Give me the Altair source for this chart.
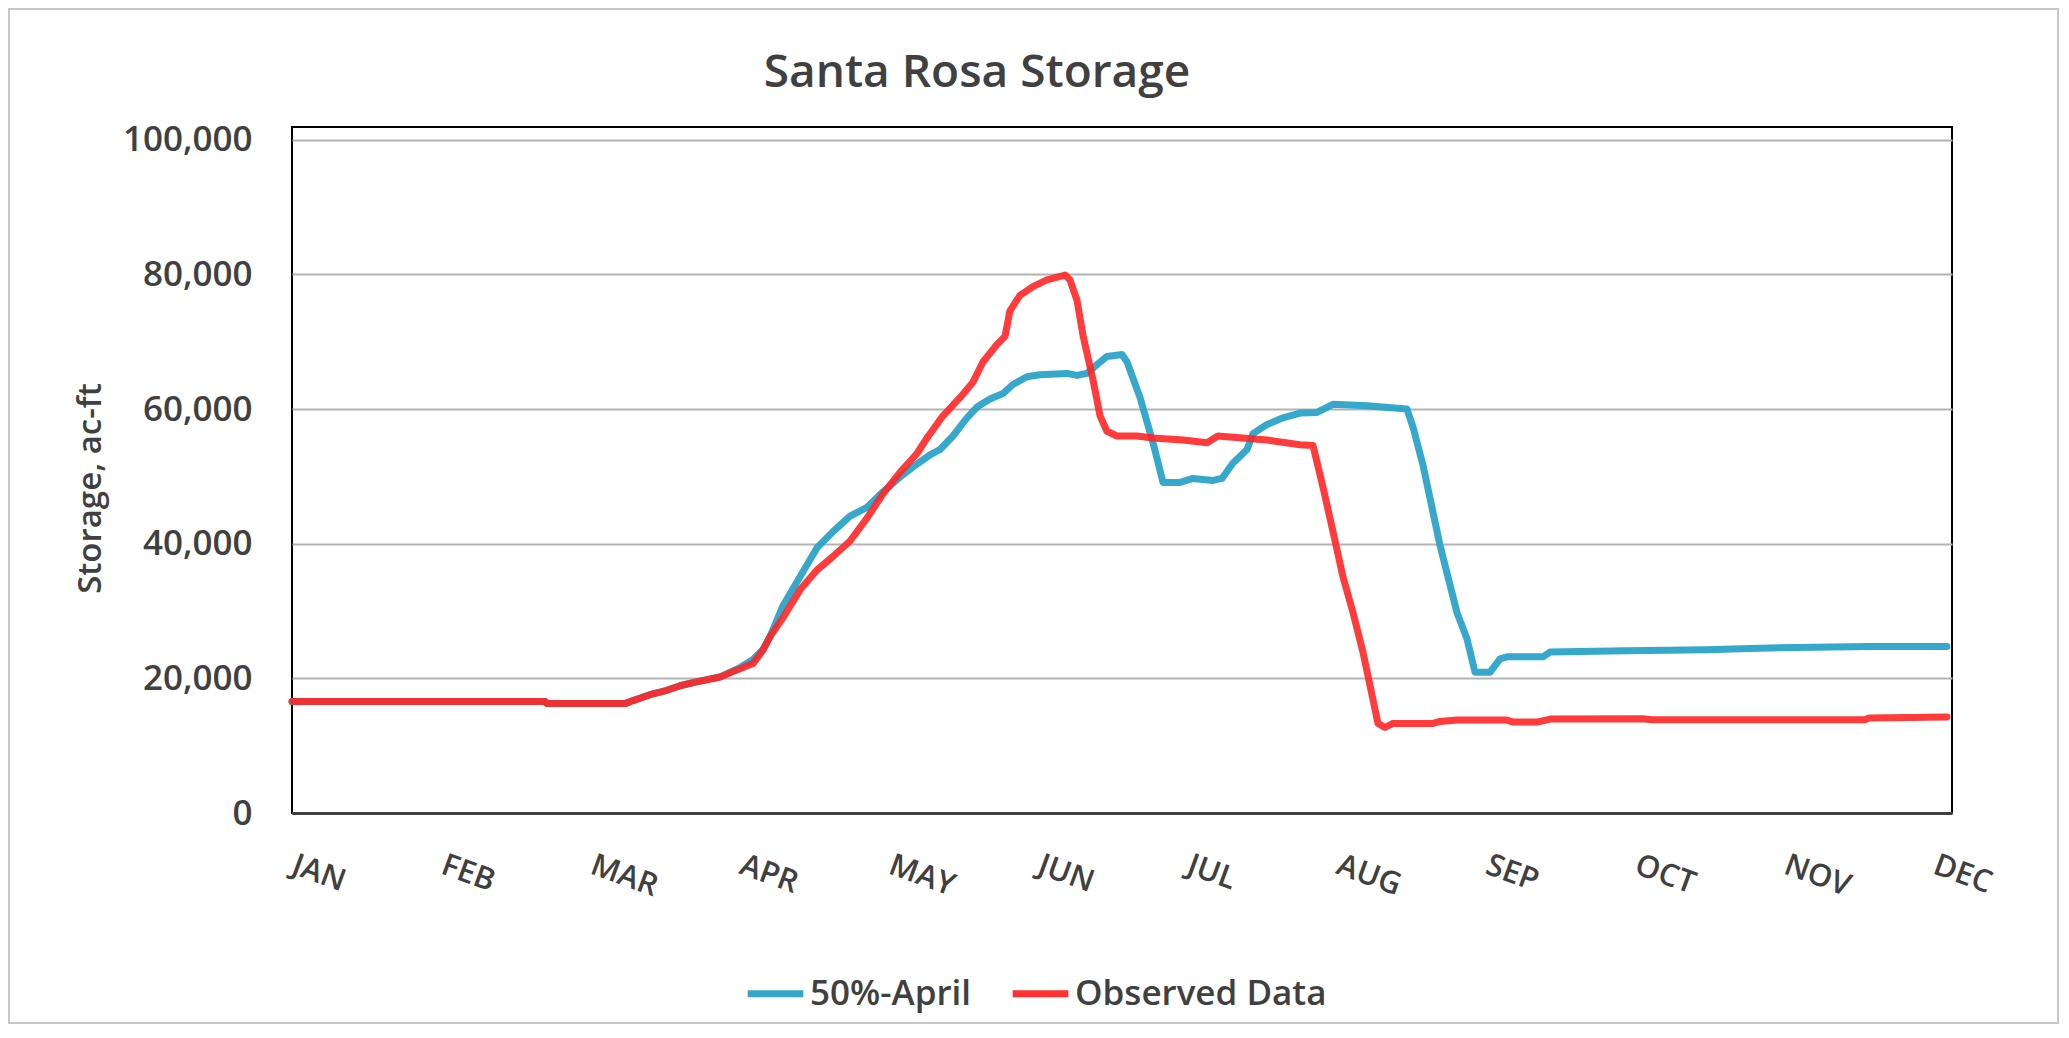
import altair as alt
import pandas as pd

# Month labels on the x axis (axis positions 0..11)
months = ["JAN", "FEB", "MAR", "APR", "MAY", "JUN", "JUL", "AUG", "SEP", "OCT", "NOV", "DEC"]

# 50%-April forecast: x in month-axis units, storage in ac-ft
april_x = [0, 1.696, 1.709, 2.232, 2.286, 2.399, 2.513, 2.601, 2.688, 2.869, 3.003, 3.090,
           3.157, 3.204, 3.291, 3.405, 3.519, 3.626, 3.740, 3.854, 3.961, 4.075, 4.162, 4.276,
           4.343, 4.430, 4.524, 4.591, 4.678, 4.765, 4.832, 4.926, 5.013, 5.194, 5.261, 5.328,
           5.395, 5.462, 5.563, 5.597, 5.684, 5.771, 5.838, 5.952, 6.039, 6.173, 6.233, 6.307,
           6.401, 6.441, 6.535, 6.642, 6.756, 6.870, 6.977, 7.205, 7.473, 7.513, 7.580, 7.694,
           7.808, 7.875, 7.929, 8.029, 8.097, 8.143, 8.385, 8.432, 8.941, 9.484, 9.712, 10.087,
           10.570, 11.092]
april_y = [16570, 16570, 16250, 16250, 16700, 17570, 18230, 18900, 19360, 20200, 21600, 22800,
           24300, 26200, 30800, 35100, 39400, 41800, 44100, 45400, 47700, 49900, 51400, 53200,
           54000, 56000, 58700, 60300, 61500, 62300, 63650, 64800, 65100, 65300, 65000, 65300,
           66600, 67800, 68100, 67000, 61700, 55000, 49100, 49100, 49700, 49400, 49700, 52000,
           54000, 56350, 57700, 58700, 59400, 59500, 60700, 60500, 60000, 57350, 51700, 39800,
           29800, 25900, 20900, 20900, 22900, 23200, 23200, 23900, 24100, 24250, 24400, 24600,
           24750, 24750]

# Observed data
obs_x = [0, 1.696, 1.709, 2.232, 2.286, 2.399, 2.513, 2.601, 2.688, 2.869, 2.956, 3.090,
         3.157, 3.204, 3.291, 3.405, 3.519, 3.626, 3.740, 3.854, 3.961, 4.075, 4.189, 4.256,
         4.363, 4.477, 4.564, 4.631, 4.725, 4.779, 4.812, 4.879, 4.966, 5.060, 5.181, 5.214,
         5.261, 5.302, 5.369, 5.416, 5.462, 5.529, 5.664, 5.771, 5.972, 6.133, 6.206, 6.307,
         6.535, 6.756, 6.843, 6.910, 6.977, 7.044, 7.111, 7.178, 7.279, 7.326, 7.379, 7.647,
         7.694, 7.808, 8.143, 8.184, 8.344, 8.432, 9.055, 9.115, 10.543, 10.570, 11.092]
obs_y = [16570, 16570, 16250, 16250, 16700, 17570, 18230, 18900, 19360, 20200, 21000, 22200,
         24200, 26200, 29000, 33150, 36100, 38100, 40400, 43800, 47400, 50600, 53400, 55700,
         59000, 61700, 64000, 67000, 69600, 70800, 74600, 76900, 78200, 79200, 79900, 79200,
         76200, 70900, 64300, 59000, 56700, 56000, 56000, 55700, 55400, 55000, 56000, 55800,
         55400, 54700, 54600, 48400, 41800, 35100, 29800, 23900, 13300, 12700, 13300, 13300,
         13600, 13800, 13800, 13500, 13500, 13950, 14000, 13850, 13850, 14100, 14250]

series_names = ["50%-April", "Observed Data"]
y_ticks = [0, 20000, 40000, 60000, 80000, 100000]
chart_title = "Santa Rosa Storage"

df = pd.concat([
    pd.DataFrame({"m": april_x, "v": april_y, "series": series_names[0]}),
    pd.DataFrame({"m": obs_x, "v": obs_y, "series": series_names[1]}),
], ignore_index=True)

FONT = "Open Sans"
TXT = "#404040"
BLUE = "#2BA3C9"
RED = "#FF2626"
W, H = 1660, 686

label_expr = "[" + ",".join("'%s'" % m for m in months) + "][datum.value]"

x_enc = alt.X(
    "m:Q",
    scale=alt.Scale(domain=[0, 11.126], nice=False, zero=False),
    axis=alt.Axis(
        values=list(range(len(months))), labelExpr=label_expr, labelAngle=20,
        labelAlign="left", labelBaseline="top", labelPadding=37, labelOffset=6,
        ticks=False, grid=False, domainColor=TXT, domainWidth=3, labelFont=FONT,
        labelFontSize=31, labelFontWeight=600, labelColor=TXT, title=None,
        labelOverlap=False,
    ),
)
y_enc = alt.Y(
    "v:Q",
    scale=alt.Scale(domain=[0, 101900], nice=False),
    axis=alt.Axis(
        values=y_ticks, format=",.0f", grid=True, gridColor="#B3B3B3", gridWidth=2,
        ticks=False, domain=False, labelPadding=40, labelFont=FONT, labelFontSize=35,
        labelFontWeight=600, labelColor=TXT, title="Storage, ac-ft", titleFont=FONT,
        titleFontSize=33, titleFontWeight=600, titleColor=TXT, titleAngle=270,
        titleX=-192, titleY=361, titleAlign="center", titleBaseline="alphabetic",
    ),
)
color_enc = alt.Color(
    "series:N",
    scale=alt.Scale(domain=series_names, range=[BLUE, RED]),
    legend=alt.Legend(
        orient="none", legendX=452, legendY=835, direction="horizontal", title=None,
        symbolType="stroke", symbolStrokeWidth=7, symbolSize=3100, labelFont=FONT,
        labelFontSize=35, labelFontWeight=600, labelColor=TXT, columnPadding=26,
        labelOffset=3, labelLimit=0,
    ),
)

base = alt.Chart(df).encode(x=x_enc, y=y_enc, color=color_enc)
blue_line = base.transform_filter(alt.datum.series == series_names[0]).mark_line(
    strokeWidth=7, strokeCap="round", strokeJoin="round", opacity=0.95)
red_line = base.transform_filter(alt.datum.series == series_names[1]).mark_line(
    strokeWidth=7, strokeCap="round", strokeJoin="round", opacity=0.9)

one = alt.Data(values=[{"k": 1}])
outer = alt.Chart(one).mark_rect(
    fillOpacity=0, stroke="#C8C8C8", strokeWidth=2
).encode(x=alt.value(-283), x2=alt.value(1766), y=alt.value(-118), y2=alt.value(896))

title_mark = alt.Chart(one).mark_text(
    font=FONT, fontSize=46, fontWeight=600, color=TXT, align="center",
    baseline="alphabetic"
).encode(x=alt.value(685), y=alt.value(-40), text=alt.value(chart_title))

chart = alt.layer(outer, title_mark, blue_line, red_line).properties(
    width=W, height=H,
    autosize=alt.AutoSizeParams(type="none"),
    padding={"left": 284, "top": 119, "right": 108, "bottom": 212},
    background="white",
).configure_view(stroke="black", strokeWidth=2)

chart.save("out.html", embed_options={"renderer": "svg", "actions": False})
